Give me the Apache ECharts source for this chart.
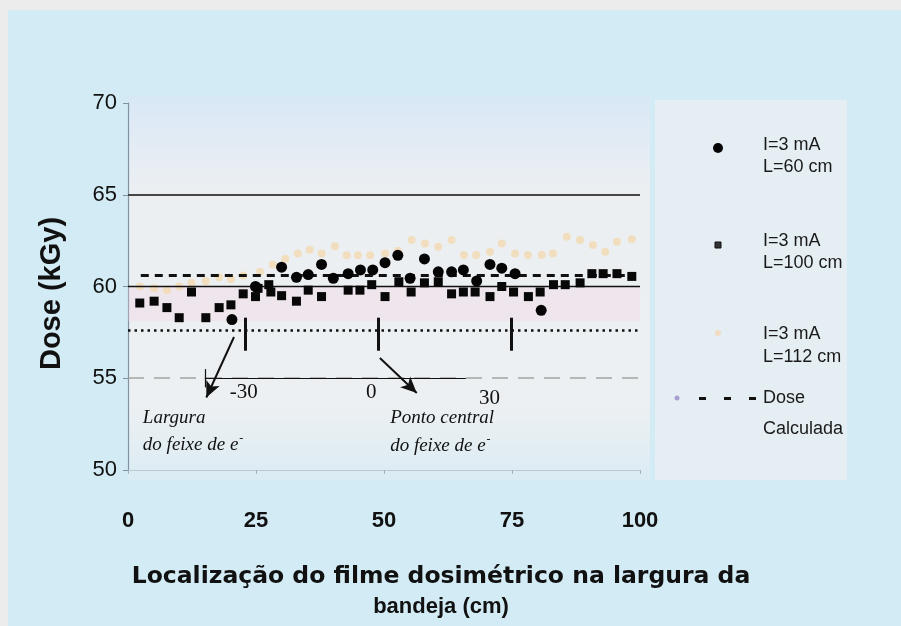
<!DOCTYPE html>
<html><head><meta charset="utf-8">
<script src="https://cdn.jsdelivr.net/npm/echarts@6/dist/echarts.min.js"></script>
<style>html,body{margin:0;padding:0;background:#ececec;}#c{width:901px;height:626px;}</style>
</head><body><div id="c"></div>
<script>
// ---- tick labels ----
const xTicks = [0, 25, 50, 75, 100];
const yTicks = [50, 55, 60, 65, 70];

// ---- series: I=3 mA, L=60 cm (circles) ----
const s60X = [20.3, 24.9, 30.0, 32.9, 35.2, 37.8, 40.1, 43.0, 45.4, 47.8, 50.2, 52.7, 55.1, 57.9, 60.6, 63.2, 65.5, 68.1, 70.7, 73.0, 75.6, 80.7];
const s60Y = [58.2, 60.0, 61.05, 60.5, 60.65, 61.2, 60.45, 60.7, 60.9, 60.9, 61.3, 61.7, 60.45, 61.5, 60.8, 60.8, 60.9, 60.3, 61.2, 61.0, 60.7, 58.7];

// ---- series: I=3 mA, L=100 cm (squares) ----
const s100X = [2.3, 5.1, 7.6, 10.0, 12.4, 15.2, 17.8, 20.1, 22.5, 24.9, 25.4, 27.5, 27.9, 30.0, 32.9, 35.2, 37.8, 43.0, 45.3, 47.6, 50.2, 52.9, 55.3, 57.9, 60.6, 63.2, 65.5, 67.8, 70.7, 73.0, 75.3, 78.2, 80.5, 83.1, 85.4, 88.3, 90.6, 92.8, 95.5, 98.4];
const s100Y = [59.1, 59.2, 58.85, 58.3, 59.7, 58.3, 58.85, 59.0, 59.6, 59.45, 59.9, 60.1, 59.7, 59.5, 59.2, 59.8, 59.45, 59.8, 59.8, 60.1, 59.45, 60.26, 59.7, 60.2, 60.26, 59.6, 59.7, 59.7, 59.45, 60.0, 59.7, 59.45, 59.7, 60.1, 60.1, 60.2, 60.7, 60.7, 60.7, 60.55];

// ---- series: I=3 mA, L=112 cm (light dots) ----
const s112X = [2.3, 5.1, 7.6, 10.0, 12.4, 15.2, 17.8, 20.1, 22.5, 25.8, 28.3, 30.7, 33.2, 35.5, 37.8, 40.4, 42.7, 44.9, 47.3, 50.2, 52.7, 55.4, 58.0, 60.6, 63.2, 65.6, 68.0, 70.7, 73.0, 75.6, 78.1, 80.8, 83.0, 85.7, 88.3, 90.8, 93.2, 95.5, 98.4];
const s112Y = [60.0, 59.9, 59.8, 60.0, 60.2, 60.3, 60.5, 60.4, 60.6, 60.8, 61.2, 61.5, 61.8, 62.0, 61.8, 62.2, 61.7, 61.7, 61.7, 61.8, 61.95, 62.53, 62.35, 62.17, 62.53, 61.72, 61.72, 61.9, 62.35, 61.8, 61.72, 61.72, 61.8, 62.71, 62.53, 62.26, 61.9, 62.44, 62.57];

// ---- reference doses ----
const doseCalculadaX = [2.5, 99];
const doseCalculadaY = [60.6, 60.6];
const doseMin = 57.6;
const beamPositions = [22.9, 48.8, 74.8];
const beamLabels = ['-30', '0', '30'];

const names = ['I=3 mA\nL=60 cm', 'I=3 mA\nL=100 cm', 'I=3 mA\nL=112 cm', 'Dose\nCalculada'];
const xTitle = ['Localização do filme dosimétrico na largura da', 'bandeja (cm)'];
const yTitle = 'Dose (kGy)';

const zip = (a, b) => a.map((v, i) => [v, b[i]]);

const chart = echarts.init(document.getElementById('c'), null, {renderer: 'canvas'});

const markLines = [
  [{coord: [0, 65], lineStyle: {color: '#474747', width: 2, type: 'solid'}}, {coord: [100, 65]}],
  [{coord: [0, 60], lineStyle: {color: '#111', width: 1.3, type: 'solid'}}, {coord: [100, 60]}],
  [{coord: [0, 55], lineStyle: {color: '#a3a3a3', width: 1.5, type: [16, 10]}}, {coord: [100, 55]}],
  [{coord: [0, doseMin], lineStyle: {color: '#111', width: 2.6, type: [2.5, 4]}}, {coord: [100, doseMin]}],
  [{coord: [15, 55], lineStyle: {color: '#111', width: 1.2, type: 'solid'}}, {coord: [66, 55]}],
  [{coord: [15, 55.5], lineStyle: {color: '#111', width: 1.2, type: 'solid'}}, {coord: [15, 54.5]}],
].concat(beamPositions.map(b => [{coord: [b, 58.3], lineStyle: {color: '#111', width: 3, type: 'solid'}}, {coord: [b, 56.5]}]));

const arrows = [
  [{coord: [20.7, 57.25], lineStyle: {color: '#111', width: 2, type: 'solid'}}, {coord: [15.3, 53.95]}],
  [{coord: [49.2, 56.1], lineStyle: {color: '#111', width: 2, type: 'solid'}}, {coord: [56.4, 54.2]}]
];

chart.setOption({
  backgroundColor: '#ececec',
  animation: false,
  grid: {left: 128, top: 103, width: 512, height: 367},
  xAxis: {
    type: 'value', min: xTicks[0], max: xTicks[xTicks.length - 1], interval: 25,
    axisLine: {show: true, lineStyle: {color: '#b9c8d2', width: 1}},
    axisTick: {show: true, length: 4, lineStyle: {color: '#9fb2bf'}},
    splitLine: {show: false},
    axisLabel: {color: '#111', fontSize: 22, fontFamily: 'Liberation Sans, Arial', fontWeight: 'bold', margin: 40}
  },
  yAxis: {
    type: 'value', min: yTicks[0], max: yTicks[yTicks.length - 1], interval: 5,
    axisLine: {show: true, lineStyle: {color: '#7f93a3', width: 1.2}},
    axisTick: {show: true, length: 5, lineStyle: {color: '#7f93a3'}},
    splitLine: {show: false},
    axisLabel: {color: '#111', fontSize: 22, fontFamily: 'Liberation Sans, Arial', margin: 11},
    name: yTitle, nameLocation: 'middle', nameGap: 62, nameRotate: 90,
    nameTextStyle: {color: '#111', fontSize: 29, fontWeight: 'bold', fontFamily: 'Liberation Sans, Arial', padding: [0, 14, 0, 0]}
  },
  series: [
    {
      name: names[2], type: 'scatter', data: zip(s112X, s112Y), symbol: 'circle', symbolSize: 8,
      itemStyle: {color: '#f3d9b2', opacity: 0.8}, z: 3,
      markArea: {silent: true, itemStyle: {color: 'rgba(246,206,226,0.28)'}, data: [[{coord: [0, 60]}, {coord: [100, 58.1]}]]}
    },
    {
      name: names[3], type: 'line', data: zip(doseCalculadaX, doseCalculadaY), symbol: 'none',
      lineStyle: {color: '#111', width: 2.8, type: [8, 6]}, z: 4,
      markLine: {silent: true, symbol: ['none', 'none'], label: {show: false}, animation: false, data: markLines}
    },
    {
      name: names[1], type: 'scatter', data: zip(s100X, s100Y), symbol: 'rect', symbolSize: 9,
      itemStyle: {color: '#080808', opacity: 1}, z: 5,
      markLine: {silent: true, symbol: ['none', 'arrow'], symbolSize: [11, 16], label: {show: false}, data: arrows}
    },
    {
      name: names[0], type: 'scatter', data: zip(s60X, s60Y), symbol: 'circle', symbolSize: 11,
      itemStyle: {color: '#050505', opacity: 1}, z: 6
    }
  ]
});

// ---- background panels & annotations ----
function px(x, y) { return chart.convertToPixel({gridIndex: 0}, [x, y]); }
const serif = 'Liberation Serif, DejaVu Serif, serif';
const sans = 'Liberation Sans, Arial, sans-serif';
const g = [];
// scanned page tint
g.push({type: 'rect', shape: {x: 8, y: 10, width: 893, height: 616}, style: {fill: '#d2ebf4'}, z: -10, silent: true});
g.push({type: 'rect', shape: {x: 128, y: 96, width: 522, height: 384},
  style: {fill: new echarts.graphic.LinearGradient(0, 0, 0, 1, [
    {offset: 0, color: '#d9e8f6'}, {offset: 0.25, color: '#eceff2'}, {offset: 0.8, color: '#edf0f2'}, {offset: 1, color: '#dbecf4'}])},
  z: -9, silent: true});
g.push({type: 'rect', shape: {x: 655, y: 100, width: 192, height: 380}, style: {fill: '#e5eef2'}, z: -9, silent: true});

const ital = {fontFamily: serif, fontStyle: 'italic', fontSize: 19, fill: '#111'};
function txt(text, x, y, style, align) {
  const p = px(x, y);
  g.push({type: 'text', x: p[0], y: p[1], z: 20, silent: true,
    style: Object.assign({text: text, align: align || 'left', verticalAlign: 'middle'}, style)});
}
function rich(x, y) {
  const p = px(x, y);
  g.push({type: 'text', x: p[0], y: p[1], z: 20, silent: true,
    style: {text: 'do feixe de e{s|-}', align: 'left', verticalAlign: 'middle', fontFamily: serif, fontStyle: 'italic', fontSize: 19, fill: '#111',
      rich: {s: {fontFamily: serif, fontSize: 12, verticalAlign: 'top', padding: [0, 0, 12, 1], fill: '#111'}}}});
}
const numStyle = {fontFamily: serif, fontSize: 21, fill: '#111'};
txt(beamLabels[0], 22.6, 54.2, numStyle, 'center');
txt(beamLabels[1], 47.5, 54.2, numStyle, 'center');
txt(beamLabels[2], 70.6, 53.9, numStyle, 'center');
txt('Largura', 2.9, 52.83, ital);
rich(2.9, 51.36);
txt('Ponto central', 51.2, 52.83, ital);
rich(51.2, 51.3);

// x-axis title (two lines)
g.push({type: 'text', x: 441, y: 577, z: 20, silent: true,
  style: {text: xTitle[0], align: 'center', verticalAlign: 'middle', fontFamily: 'DejaVu Sans, sans-serif', fontWeight: 'bold', fontSize: 23.5, fill: '#111'}});
g.push({type: 'text', x: 441, y: 607, z: 20, silent: true,
  style: {text: xTitle[1], align: 'center', verticalAlign: 'middle', fontFamily: sans, fontWeight: 'bold', fontSize: 22, fill: '#111'}});

// legend
const leg = {fontFamily: sans, fontSize: 18, fill: '#1a1a1a'};
g.push({type: 'circle', shape: {cx: 718, cy: 148, r: 5}, style: {fill: '#050505'}, z: 20});
g.push({type: 'rect', shape: {x: 715, y: 242, width: 6, height: 6}, style: {fill: '#333', stroke: '#111', lineWidth: 1}, z: 20});
g.push({type: 'circle', shape: {cx: 718, cy: 333, r: 3}, style: {fill: '#f0dcc2'}, z: 20});
g.push({type: 'circle', shape: {cx: 677, cy: 398, r: 2.5}, style: {fill: '#a79fd0'}, z: 20});
[699, 724, 749].forEach(x => g.push({type: 'rect', shape: {x: x, y: 397, width: 7, height: 3}, style: {fill: '#111'}, z: 20}));
const legText = [['I=3 mA', 145], ['L=60 cm', 167], ['I=3 mA', 241], ['L=100 cm', 263], ['I=3 mA', 334], ['L=112 cm', 357], ['Dose', 398], ['Calculada', 429]];
legText.forEach(t => g.push({type: 'text', x: 763, y: t[1], z: 20, style: Object.assign({text: t[0], verticalAlign: 'middle'}, leg)}));

chart.setOption({graphic: g});
</script></body></html>
